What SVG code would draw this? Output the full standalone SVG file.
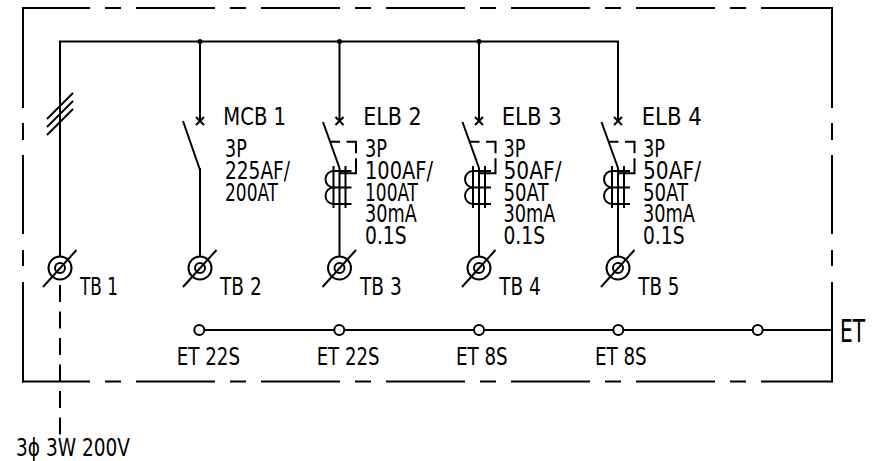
<svg xmlns="http://www.w3.org/2000/svg" width="880" height="461" viewBox="0 0 880 461">
<style>
.ln{fill:none;stroke:#000;stroke-width:2}
.box{fill:none;stroke:#000;stroke-width:2;stroke-linecap:square}
.brk{fill:none;stroke:#000;stroke-width:2;stroke-dasharray:10 6.5 21.1 5 31.5}
.ring{fill:#fff;stroke:#000;stroke-width:2}
.dot{fill:#000}
text{font-family:"Liberation Sans Narrow","DejaVu Sans Condensed","Liberation Sans",sans-serif;font-size:24.5px;fill:#000}
.big{font-size:32px}
</style>
<defs>
  <g id="terminal">
    <circle class="ring" cx="0" cy="268" r="11.5"/>
    <circle class="ln" cx="0" cy="268" r="5"/>
    <line class="ln" x1="-17" y1="287" x2="16.5" y2="250"/>
  </g>
  <g id="cross">
    <path class="ln" d="M-4,117 L4,125 M4,117 L-4,125"/>
  </g>
  <g id="elb">
    <use href="#cross"/>
    <path class="ln" d="M-16.5,122 L0,168"/>
    <path class="brk" d="M-9.5,141.7 H16.5 V173.3 H0"/>
    <path class="ln" d="M-6,166 V208 M6,166 V208"/>
    <path class="ln" d="M12,171 H-6 A8 8.25 0 0 0 -6,187.5 A8 8.25 0 0 0 -6,204 H12 M-6,187.5 H12"/>
  </g>
  <g id="mcb">
    <use href="#cross"/>
    <path class="ln" d="M-17,121 L0,170"/>
  </g>
</defs>

<g id="frame">
  <line class="box" x1="23" y1="8" x2="832" y2="8" stroke-dasharray="77 17 14 17" stroke-dashoffset="11"/>
  <line class="box" x1="23" y1="381.5" x2="832" y2="381.5" stroke-dasharray="77 17 14 17" stroke-dashoffset="11"/>
  <line class="box" x1="23" y1="8" x2="23" y2="381.5" stroke-dasharray="99 17 15 17 77 18 14 18 98.5"/>
  <line class="box" x1="832" y1="8" x2="832" y2="381.5" stroke-dasharray="99 17 15 17 77 18 14 18 98.5"/>
</g>

<g id="connectors">
  <path class="ln" d="M60,256.5 V41.5 H618 V121"/>
  <path class="ln" d="M200,41.5 V121 M339.5,41.5 V121 M479,41.5 V121"/>
  <path class="ln" d="M200,168 V256.5 M339.5,168 V256.5 M479,168 V256.5 M618,168 V256.5"/>
  <circle class="dot" cx="200" cy="41.5" r="2.5"/>
  <circle class="dot" cx="339.5" cy="41.5" r="2.5"/>
  <circle class="dot" cx="479" cy="41.5" r="2.5"/>
  <path class="ln" d="M47,119 L73,93 M47,127 L73,101 M47,135 L73,109"/>
  <line class="ln" x1="60" y1="285" x2="60" y2="435" stroke-dasharray="17 9.5"/>
</g>

<g id="TB1">
  <use href="#terminal" x="60"/>
  <text x="80" y="295" textLength="38" lengthAdjust="spacingAndGlyphs">TB 1</text>
</g>
<g id="MCB1">
  <use href="#mcb" x="200"/>
  <text x="223.3" y="125" textLength="62.7" lengthAdjust="spacingAndGlyphs">MCB 1</text>
  <text x="225" y="156.7" textLength="21.7" lengthAdjust="spacingAndGlyphs">3P</text>
  <text x="225" y="179" textLength="65" lengthAdjust="spacingAndGlyphs">225AF/</text>
  <text x="225" y="201" textLength="53" lengthAdjust="spacingAndGlyphs">200AT</text>
</g>
<g id="TB2">
  <use href="#terminal" x="200"/>
  <text x="220" y="295" textLength="41.7" lengthAdjust="spacingAndGlyphs">TB 2</text>
</g>
<g id="ELB2">
  <use href="#elb" x="339.5"/>
  <text x="363.3" y="125" textLength="58.4" lengthAdjust="spacingAndGlyphs">ELB 2</text>
  <text x="365" y="156.7" textLength="22" lengthAdjust="spacingAndGlyphs">3P</text>
  <text x="365" y="179" textLength="68" lengthAdjust="spacingAndGlyphs">100AF/</text>
  <text x="365" y="200.5" textLength="53" lengthAdjust="spacingAndGlyphs">100AT</text>
  <text x="365" y="222" textLength="51.7" lengthAdjust="spacingAndGlyphs">30mA</text>
  <text x="365" y="243.5" textLength="41.7" lengthAdjust="spacingAndGlyphs">0.1S</text>
</g>
<g id="TB3">
  <use href="#terminal" x="339.5"/>
  <text x="360" y="295" textLength="41.7" lengthAdjust="spacingAndGlyphs">TB 3</text>
</g>
<g id="ELB3">
  <use href="#elb" x="479"/>
  <text x="501.7" y="125" textLength="60" lengthAdjust="spacingAndGlyphs">ELB 3</text>
  <text x="503.5" y="156.7" textLength="22" lengthAdjust="spacingAndGlyphs">3P</text>
  <text x="503.5" y="179" textLength="58" lengthAdjust="spacingAndGlyphs">50AF/</text>
  <text x="503.5" y="200.5" textLength="45" lengthAdjust="spacingAndGlyphs">50AT</text>
  <text x="503.5" y="222" textLength="52" lengthAdjust="spacingAndGlyphs">30mA</text>
  <text x="503.5" y="243.5" textLength="41.5" lengthAdjust="spacingAndGlyphs">0.1S</text>
</g>
<g id="TB4">
  <use href="#terminal" x="479"/>
  <text x="499.3" y="295" textLength="41.4" lengthAdjust="spacingAndGlyphs">TB 4</text>
</g>
<g id="ELB4">
  <use href="#elb" x="618"/>
  <text x="641.7" y="125" textLength="60" lengthAdjust="spacingAndGlyphs">ELB 4</text>
  <text x="643" y="156.7" textLength="22" lengthAdjust="spacingAndGlyphs">3P</text>
  <text x="643" y="179" textLength="58" lengthAdjust="spacingAndGlyphs">50AF/</text>
  <text x="643" y="200.5" textLength="45" lengthAdjust="spacingAndGlyphs">50AT</text>
  <text x="643" y="222" textLength="52" lengthAdjust="spacingAndGlyphs">30mA</text>
  <text x="643" y="243.5" textLength="41.5" lengthAdjust="spacingAndGlyphs">0.1S</text>
</g>
<g id="TB5">
  <use href="#terminal" x="618"/>
  <text x="638.3" y="295" textLength="41" lengthAdjust="spacingAndGlyphs">TB 5</text>
</g>

<g id="ET-bus">
  <line class="ln" x1="199.3" y1="330" x2="832" y2="330"/>
  <circle class="ring" cx="199.3" cy="330" r="5"/>
  <circle class="ring" cx="339.3" cy="330" r="5"/>
  <circle class="ring" cx="479" cy="330" r="5"/>
  <circle class="ring" cx="618.3" cy="330" r="5"/>
  <circle class="ring" cx="757.7" cy="330" r="5"/>
  <text x="176.7" y="365" textLength="63.3" lengthAdjust="spacingAndGlyphs">ET 22S</text>
  <text x="316.7" y="365" textLength="62.7" lengthAdjust="spacingAndGlyphs">ET 22S</text>
  <text x="456" y="365" textLength="51.7" lengthAdjust="spacingAndGlyphs">ET 8S</text>
  <text x="595" y="365" textLength="51.7" lengthAdjust="spacingAndGlyphs">ET 8S</text>
  <text class="big" x="840" y="341.7" textLength="25" lengthAdjust="spacingAndGlyphs">ET</text>
</g>

<g id="supply">
  <text x="16" y="456" textLength="114" lengthAdjust="spacingAndGlyphs">3ϕ 3W 200V</text>
</g>
</svg>
